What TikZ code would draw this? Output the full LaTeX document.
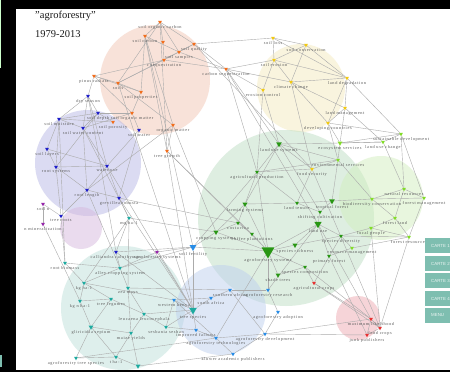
\documentclass[tikz,border=0pt]{standalone}
\usepackage{fontspec}
\setmainfont{Liberation Serif}
\newfontfamily\lblf[LetterSpace=15]{Liberation Serif}
\newfontfamily\btnf{Liberation Sans}
\usetikzlibrary{shapes.geometric}
\definecolor{cPink}{RGB}{243,199,181}
\definecolor{cYel}{RGB}{245,235,190}
\definecolor{cLav}{RGB}{185,185,230}
\definecolor{cPurp}{RGB}{215,185,222}
\definecolor{cGreen}{RGB}{190,222,196}
\definecolor{cLGreen}{RGB}{210,238,190}
\definecolor{cTeal}{RGB}{190,225,218}
\definecolor{cLBlue}{RGB}{190,208,238}
\definecolor{cRose}{RGB}{238,170,178}
\definecolor{mOr}{RGB}{240,110,30}
\definecolor{mYe}{RGB}{240,200,20}
\definecolor{mBl}{RGB}{30,30,200}
\definecolor{mPu}{RGB}{150,40,170}
\definecolor{mGr}{RGB}{40,150,20}
\definecolor{mLg}{RGB}{130,220,40}
\definecolor{mTe}{RGB}{30,170,160}
\definecolor{mLb}{RGB}{40,140,230}
\definecolor{mRe}{RGB}{230,50,50}
\definecolor{btn}{RGB}{126,190,176}
\pgfdeclarelayer{circ}
\pgfdeclarelayer{edg}
\pgfsetlayers{circ,edg,main}
\tikzset{
  mk/.style={regular polygon, regular polygon sides=3, shape border rotate=180,
    inner sep=0pt, minimum size=4.5pt, fill=#1, draw=none},
  big/.style={minimum size=#1},
  lbl/.style={font=\lblf\fontsize{4.3}{5}\selectfont, text=black!65, inner sep=0pt, label distance=0.6pt},
  blob/.style={fill=#1, fill opacity=0.5, draw=none},
  edge/.style={draw=black!33, line width=0.4pt},
  button/.style={fill=btn, draw=none, minimum width=40pt, minimum height=15pt, anchor=north west, inner sep=0pt},
  btntext/.style={font=\btnf\fontsize{4.4}{5}\selectfont, text=white!85!btn, anchor=west, inner sep=0pt},
  ttl/.style={font=\fontsize{10.5}{12}\selectfont, text=black!90, anchor=west, inner sep=0pt}
}
\begin{document}
\begin{tikzpicture}[x=1pt,y=-1pt]
\useasboundingbox (0,0) rectangle (450,372);
\clip (0,0) rectangle (450,372);
\begin{pgfonlayer}{circ}
\fill[black] (0,0) rectangle (450,372);
\fill[white] (16,9) rectangle (450,370);
\fill[green!20] (0,0) rectangle (1,68);
\fill[btn] (0,355) rectangle (1.5,367);
\fill[blob=cPink] (155,80) circle (55);
\fill[blob=cYel] (301,88) circle (44);
\fill[blob=cLav] (88,163) circle (53);
\fill[blob=cPurp] (81,228) circle (21);
\fill[blob=cGreen] (286,218) circle (88);
\fill[blob=cLGreen] (381,198) circle (42);
\fill[blob=cTeal] (123,308) circle (62);
\fill[blob=cLBlue] (221,310) circle (45);
\fill[blob=cRose] (358,318) circle (22);
\end{pgfonlayer}

\node[ttl] (t1) at (35,16) {"agroforestry"};
\node[ttl] (t2) at (35,34) {1979-2013};

% pink cluster
\node[mk=mOr, label={[lbl]below:pinus radiata}] (pr) at (94,76) {};
\node[mk=mOr, label={[lbl]below:soils}] (soils) at (118,83) {};
\node[mk=mOr, label={[lbl]below:soil properties}] (sprop) at (141,92) {};
\node[mk=mOr, label={[lbl]below:soil carbon}] (sc) at (145,36) {};
\node[mk=mOr, label={[lbl]below:soil organic carbon}] (soc) at (160,22) {};
\node[mk=mOr, label={[lbl]below:soil quality}] (sq) at (194,44) {};
\node[mk=mOr, label={[lbl]below:soil samples}] (ss) at (179,52) {};
\node[mk=mOr, label={[lbl]below:c sequestration}] (cseq) at (164,60) {};
\node[mk=mOr] (x1) at (163,42) {};
\node[mk=mOr, label={[lbl]below:carbon sequestration}] (carb) at (226,69) {};
\node[mk=mOr, label={[lbl]below:soil organic matter}] (som) at (132,113) {};
\node[mk=mOr, label={[lbl]below:soil porosity}] (spor) at (113,122) {};
\node[mk=mOr, label={[lbl]below:organic matter}] (om) at (173,125) {};
\node[mk=mOr, label={[lbl]below:tree growth}] (tg) at (167,151) {};
% yellow
\node[mk=mYe, label={[lbl]below:soil loss}] (sl) at (273,38) {};
\node[mk=mYe, label={[lbl]below:soil conservation}] (scons) at (306,45) {};
\node[mk=mYe, label={[lbl]below:soil erosion}] (se) at (274,60) {};
\node[mk=mYe, label={[lbl]below:climate change}] (cc) at (291,82) {};
\node[mk=mYe, label={[lbl]below:erosion control}] (ec) at (263,90) {};
\node[mk=mYe, label={[lbl]below:land degradation}] (ld) at (347,78) {};
\node[mk=mYe, label={[lbl]below:land management}] (lm) at (345,108) {};
\node[mk=mYe, label={[lbl]below:developing countries}] (dc) at (328,123) {};
\node[mk=mYe, label={[lbl]below:food security}] (fs) at (312,169) {};
% blue
\node[mk=mBl, label={[lbl]below:dry season}] (ds) at (88,96) {};
\node[mk=mBl, label={[lbl]below:soil depth}] (sd) at (98,113) {};
\node[mk=mBl, label={[lbl]below:soil moisture}] (smo) at (59,119) {};
\node[mk=mBl, label={[lbl]below:soil water content}] (swc) at (83,128) {};
\node[mk=mBl, label={[lbl]below:soil water}] (sw) at (139,130) {};
\node[mk=mBl, label={[lbl]below:soil layers}] (slay) at (47,149) {};
\node[mk=mBl, label={[lbl]below:root systems}] (rs) at (56,167) {};
\node[mk=mBl, label={[lbl]below:water use}] (wu) at (107,166) {};
\node[mk=mBl, label={[lbl]below:root length}] (rl) at (87,190) {};
\node[mk=mBl, label={[lbl]below:grevillea robusta}] (gr) at (119,198) {};
\node[mk=mBl, label={[lbl]below:tree roots}] (tr) at (61,216) {};
\node[mk=mBl, label={[lbl]below:calliandra calothyrsus}] (cal) at (116,252) {};
% purple
\node[mk=mPu, label={[lbl]below:soil n}] (sn) at (43,204) {};
\node[mk=mPu, label={[lbl]below:n mineralization}] (nm) at (43,224) {};
\node[mk=mPu, label={[lbl]below:agroforestry systems}] (afsp) at (157,252) {};
% teal
\node[mk=mTe, label={[lbl]below:mg ha-1}] (mg) at (129,218) {};
\node[mk=mTe, label={[lbl]below:root biomass}] (rb) at (65,263) {};
\node[mk=mTe, label={[lbl]below:alley cropping system}] (acs) at (120,268) {};
\node[mk=mTe, label={[lbl]below:kg ha-1}] (kg) at (84,283) {};
\node[mk=mTe, label={[lbl]below:zea mays}] (zm) at (128,288) {};
\node[mk=mTe, label={[lbl]below:kg n ha-1}] (kgn) at (80,301) {};
\node[mk=mTe, label={[lbl]below:tree legumes}] (tl) at (111,299) {};
\node[mk=mTe, label={[lbl]below:leucaena leucocephala}] (ll) at (144,314) {};
\node[mk=mTe, big=5.5pt, label={[lbl]below:gliricidia sepium}] (gs) at (91,327) {};
\node[mk=mTe, label={[lbl]below:maize yields}] (my) at (131,333) {};
\node[mk=mTe, label={[lbl]below:agroforestry tree species}] (ats) at (76,358) {};
\node[mk=mTe, label={[lbl]below:t ha-1}] (tha) at (116,357) {};
\node[mk=mTe, big=5.5pt] (tb) at (138,366) {};
\node[mk=mTe, label={[lbl]below:sesbania sesban}] (sesb) at (166,327) {};
\node[mk=mTe, big=9pt, label={[lbl]below:tree species}] (ts) at (193,310) {};
% light blue
\node[mk=mLb, big=8pt, label={[lbl]below:soil fertility}] (sfert) at (193,247) {};
\node[mk=mLb, label={[lbl]below:western kenya}] (wk) at (174,300) {};
\node[mk=mLb, label={[lbl]below:south africa}] (saf) at (211,298) {};
\node[mk=mLb, label={[lbl]below:southern africa}] (sthaf) at (230,290) {};
\node[mk=mLb, label={[lbl]below:improved fallows}] (if) at (196,330) {};
\node[mk=mLb, label={[lbl]below:agroforestry technologies}] (at) at (216,338) {};
\node[mk=mLb, label={[lbl]below:agroforestry development}] (ad) at (265,334) {};
\node[mk=mLb, label={[lbl]below:agroforestry adoption}] (aad) at (278,312) {};
\node[mk=mLb, label={[lbl]below:kluwer academic publishers}] (kap) at (233,354) {};
\node[mk=mLb, label={[lbl]below:agroforestry research}] (ar) at (268,290) {};
% green
\node[mk=mGr, big=6.5pt, label={[lbl]below:land use systems}] (lus) at (279,144) {};
\node[mk=mGr, label={[lbl]below:agricultural production}] (ap) at (257,172) {};
\node[mk=mGr, big=6pt, label={[lbl]below:farming systems}] (fsys) at (245,204) {};
\node[mk=mGr, big=6pt, label={[lbl]below:cropping systems}] (crs) at (216,232) {};
\node[mk=mGr, label={[lbl]below:costa rica}] (cr) at (238,223) {};
\node[mk=mGr, label={[lbl]below:coffee plantations}] (cp) at (252,234) {};
\node[mk=mGr, big=15pt, label={[lbl,label distance=-0.5pt]below:agroforestry systems}] (afs) at (268,251) {};
\node[mk=mGr, big=6pt, label={[lbl]below:species richness}] (sr) at (295,245) {};
\node[mk=mGr, big=5.5pt, label={[lbl]below:shade trees}] (stree) at (278,275) {};
\node[mk=mGr, label={[lbl]below:species composition}] (scomp) at (305,267) {};
\node[mk=mGr, label={[lbl]below:land tenure}] (ltn) at (297,203) {};
\node[mk=mGr, big=6.5pt, label={[lbl]below:tropical forest}] (tf) at (332,201) {};
\node[mk=mGr, label={[lbl]below:shifting cultivation}] (shc) at (320,212) {};
\node[mk=mGr, big=8.5pt, label={[lbl]below:land use}] (lu) at (318,224) {};
\node[mk=mGr, label={[lbl]below:species diversity}] (sdiv) at (341,236) {};
\node[mk=mGr, label={[lbl]below:primary forest}] (pf) at (329,256) {};
\node[mk=mLg, label={[lbl]below:resource management}] (rm) at (352,248) {};
\node[mk=mLg, big=5.5pt, label={[lbl]below:ecosystem services}] (es) at (340,143) {};
\node[mk=mLg, label={[lbl]below:environmental services}] (env) at (338,160) {};
% light green
\node[mk=mLg, label={[lbl]below:sustainable development}] (sdev) at (401,134) {};
\node[mk=mLg, label={[lbl]below:land use change}] (luc) at (383,142) {};
\node[mk=mLg, label={[lbl]below:natural resources}] (nr) at (404,189) {};
\node[mk=mLg, label={[lbl]below:forest management}] (fm) at (424,198) {};
\node[mk=mLg, label={[lbl]below:biodiversity conservation}] (bc) at (372,199) {};
\node[mk=mLg, label={[lbl]below:forest land}] (fl) at (395,218) {};
\node[mk=mLg, label={[lbl]below:local people}] (lp) at (371,228) {};
\node[mk=mLg, label={[lbl]below:forest resources}] (fr) at (409,237) {};
% red
\node[mk=mRe, label={[lbl]below:agricultural crops}] (ac) at (314,283) {};
\node[mk=mRe, label={[lbl]below:maximum likelihood}] (ml) at (371,319) {};
\node[mk=mRe, label={[lbl]below:food crops}] (fc) at (380,328) {};
\node[mk=mRe, label={[lbl]below:junk publishers}] (jp) at (367,335) {};

\begin{pgfonlayer}{edg}
\foreach \a/\b in {pr/soils, pr/cseq, pr/sprop, pr/ds, pr/som, soils/cseq, soils/sprop, soils/soc,
  soils/sq, soils/om, sprop/sc, sprop/som, sc/soc, sc/ss, sc/om, soc/sq, soc/ss, soc/tg, sq/ss, sq/sl,
  sq/carb, ss/cseq, ss/carb, cseq/carb, x1/soc, x1/cseq, carb/cc, carb/se, carb/ec, carb/ap, carb/lus,
  sc/tg, som/swc, som/sd, spor/smo, spor/sd, om/tg, om/rl, tg/cp, tg/ts,
  sl/scons, sl/se, sl/ld, scons/se, scons/ld, scons/cc, se/cc, se/ec, se/ld, cc/ld, cc/lm, cc/dc,
  cc/fs, ec/ap, ec/lus, ld/lm, ld/sdev, ld/dc, lm/dc, lm/luc, lm/es, dc/sdev, dc/es, fs/ap, fs/lus,
  fs/env, fs/ltn,
  ds/sd, ds/smo, ds/swc, ds/wu, sd/smo, sd/swc, sd/rs, smo/slay, smo/rs, smo/swc, swc/wu, swc/rl,
  sw/wu, sw/gr, sw/som, slay/rs, slay/wu, rs/rl, rs/tr, rs/wu, wu/rl, wu/gr, rl/gr, rl/tr, gr/mg,
  gr/ts, tr/sn, tr/rb, cal/acs, cal/mg, cal/sfert, sn/nm, nm/kgn, afsp/acs, afsp/sfert, afsp/ts,
  mg/zm, mg/kg, rb/kg, rb/acs, acs/zm, acs/kg, acs/sfert, kg/kgn, kg/tl, zm/my, zm/ll, kgn/gs,
  kgn/tl, tl/ll, tl/gs, ll/my, ll/sesb, ll/ts, gs/my, gs/ats, gs/tha, my/tha, my/tb, ats/tha, tha/tb,
  sesb/if, sesb/ts, ts/wk, ts/if, ts/sfert, ts/saf,
  wk/saf, wk/at, saf/sthaf, sthaf/ar, sthaf/ad, if/at, at/ad, at/kap, ad/aad, aad/ar, ar/afs, kap/ad,
  lus/ap, lus/es, lus/env, lus/fsys, ap/fsys, ap/ltn, ap/afs, fsys/crs, fsys/cr, fsys/ltn, fsys/afs,
  crs/cr, crs/sfert, crs/afs, cr/cp, cp/afs, afs/sr, afs/stree, afs/scomp, afs/ar, afs/lu, sr/lu,
  sr/sdiv, stree/scomp, scomp/ac, ltn/shc, ltn/tf, tf/shc, tf/bc, shc/lu, lu/sdiv, lu/pf, sdiv/rm,
  sdiv/lp, pf/rm, rm/fr, es/env, es/luc, env/bc, env/tf,
  sdev/luc, sdev/nr, sdev/fm, luc/es, nr/fm, nr/bc, bc/fm, bc/fl, fl/lp, fl/fr, fm/fr, lp/fr, nr/fl,
  ac/ml, ac/fc, ml/fc, ml/jp, fc/jp, ac/sdiv, jp/ad, ml/lu, fc/fs,
  sq/fs, carb/lu, soils/ts, sc/sfert, om/crs, tg/afs, ds/cal, smo/rb, swc/mg, wu/ts, gr/cr, rl/acs,
  sfert/afs, sfert/ap, cal/ts, mg/crs, kg/wk, zm/sthaf, ats/at, tb/kap, sesb/wk, at/afs, lus/shc,
  ap/env, es/sdev, dc/env, luc/nr, fr/fc, ad/ml, ar/lu, scomp/ml, pf/jp, lp/fc, sdiv/fr}
  \draw[edge] (\a) -- (\b);
\end{pgfonlayer}

% buttons
\node[button] (b1) at (425,238) {};
\node[button] (b2) at (425,256) {};
\node[button] (b3) at (425,273) {};
\node[button] (b4) at (425,291) {};
\node[button] (b5) at (425,308) {};
\node[btntext] (bt1) at (431,245.5) {CARTE 1};
\node[btntext] (bt2) at (431,263.5) {CARTE 2};
\node[btntext] (bt3) at (431,280.5) {CARTE 3};
\node[btntext] (bt4) at (431,298.5) {CARTE 4};
\node[btntext] (bt5) at (431,315.5) {MENU};
\end{tikzpicture}
\end{document}
